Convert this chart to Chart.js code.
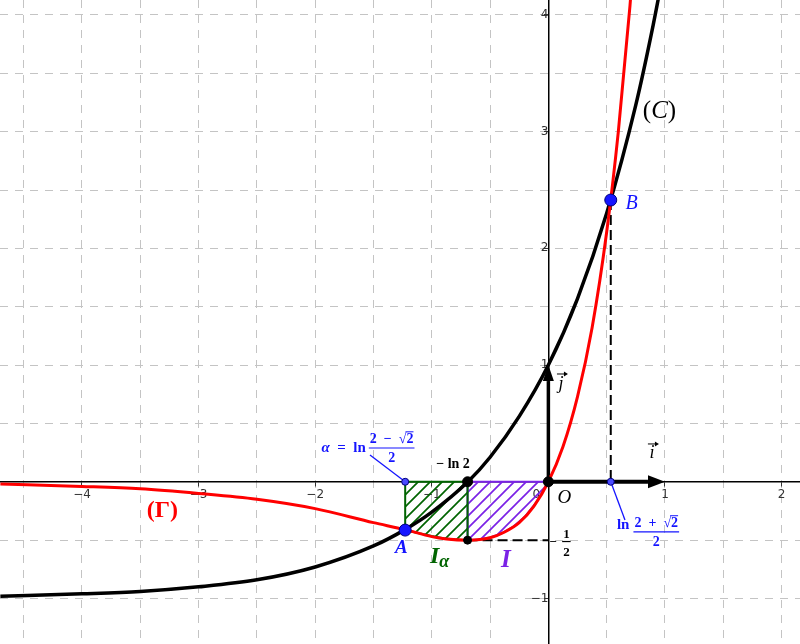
<!DOCTYPE html>
<html>
<head>
<meta charset="utf-8">
<title>Courbes (C) et (Γ)</title>
<script src="https://cdn.jsdelivr.net/npm/chart.js@4.4.0/dist/chart.umd.min.js"></script>
<style>
  html, body { margin: 0; padding: 0; background: #fff; }
  #wrap { width: 800px; height: 644px; }
</style>
</head>
<body>
<div id="wrap"><canvas id="graph"></canvas></div>
<script>
// visible window (units)
const xMin = -4.703, xMax = 2.158;
const yMin = -1.39, yMax = 4.128;

// axis tick labels
const xTickValues = [-4, -3, -2, -1, 0, 1, 2];
const xTickLabels = ['−4', '−3', '−2', '−1', '0\u2003\u2003', '1', '2'];
const yTickValues = [-1, 1, 2, 3, 4];
const yTickLabels = ['−1', '1', '2', '3', '4'];

// curve (C)
const cX = [-4.70, -4.0, -3.5, -3.0, -2.5, -2.0, -1.5, -1.23, -1.0, -0.69, -0.5, -0.25, 0, 0.25, 0.5, 0.75, 0.9, 1.0];
const cY = [-0.98, -0.96, -0.94, -0.90, -0.84, -0.73, -0.55, -0.41, -0.26, 0.00, 0.21, 0.56, 1.00, 1.57, 2.30, 3.23, 3.92, 4.44];

// curve (Γ)
const gX = [-4.70, -4.0, -3.5, -3.0, -2.5, -2.0, -1.5, -1.23, -1.0, -0.875, -0.69, -0.5, -0.375, -0.25, -0.125, 0, 0.125, 0.25, 0.375, 0.5, 0.6, 0.7, 0.75];
const gY = [-0.02, -0.04, -0.06, -0.10, -0.15, -0.23, -0.35, -0.41, -0.47, -0.49, -0.50, -0.48, -0.43, -0.35, -0.21, 0, 0.30, 0.73, 1.32, 2.14, 3.00, 4.08, 4.73];

// hatched region I_alpha (closed outline)
const iaX = [-1.228, -1.228, -1.1, -1.0, -0.9, -0.8, -0.693, -0.693, -1.228];
const iaY = [0, -0.414, -0.444, -0.465, -0.483, -0.495, -0.50, 0, 0];

// hatched region I (closed outline)
const iX = [-0.693, -0.693, -0.6, -0.5, -0.4, -0.3, -0.2, -0.1, 0, -0.693];
const iY = [0, -0.50, -0.495, -0.477, -0.442, -0.384, -0.297, -0.172, 0, 0];

// points
const bigBlueX = [-1.228, 0.535];      // A, B
const bigBlueY = [-0.414, 2.414];
const footX = [-1.228, 0.535];         // feet on the x axis
const footY = [0, 0];
const blackX = [-0.693, 0, -0.693];
const blackY = [0, 0, -0.5];

// dashed guides
const dropBX = [0.535, 0.535];
const dropBY = [2.414, 0];
const halfX = [-0.693, 0];
const halfY = [-0.5, -0.5];

// label connectors
const linkAlphaX = [-1.53, -1.228];
const linkAlphaY = [0.23, 0];
const linkBX = [0.535, 0.657];
const linkBY = [0, -0.327];

// unit vectors i and j
const vecI = [0, 0, 1, 0];
const vecJ = [0, 0, 0, 1];

const pts = (xs, ys) => xs.map((x, i) => ({x: x, y: ys[i]}));

const canvas = document.getElementById('graph');
const mainCtx = canvas.getContext('2d');

function hatch(color) {
    const c = document.createElement('canvas');
    c.width = 12; c.height = 12;
    const g = c.getContext('2d');
    g.strokeStyle = color;
    g.lineWidth = 1.7;
    g.beginPath();
    g.moveTo(0, 12); g.lineTo(12, 0);
    g.moveTo(-6, 6); g.lineTo(6, -6);
    g.moveTo(6, 18); g.lineTo(18, 6);
    g.stroke();
    return mainCtx.createPattern(c, 'repeat');
}

const GREEN = '#006400';
const PURPLE = '#7b22e6';
const BLUE = '#1515ff';
const RED = '#ff0000';
const serif = '"Liberation Serif", "DejaVu Serif", serif';
const SP = '\u2002';

function run(ctx, parts, x, y, align) {
    let w = 0;
    parts.forEach(p => { ctx.font = p[1]; w += ctx.measureText(p[0]).width; });
    let cx = align === 'center' ? x - w / 2 : x;
    ctx.textAlign = 'left';
    parts.forEach(p => {
        ctx.font = p[1];
        ctx.fillStyle = p[2];
        ctx.fillText(p[0], cx, y);
        cx += ctx.measureText(p[0]).width;
    });
    return w;
}

// fraction, numerator may end with a square root
function frac(ctx, left, numBase, barY, denBase, num, den, font, size, color, surd) {
    ctx.font = font;
    ctx.fillStyle = color;
    ctx.strokeStyle = color;
    ctx.textAlign = 'left';
    const wn = ctx.measureText(num).width;
    const wd = ctx.measureText(den).width;
    const w = Math.max(wn, wd) + 2;
    ctx.fillText(num, left + (w - wn) / 2, numBase);
    ctx.fillText(den, left + (w - wd) / 2, denBase);
    ctx.lineWidth = 1.2;
    ctx.beginPath();
    ctx.moveTo(left, barY); ctx.lineTo(left + w, barY);
    ctx.stroke();
    if (surd) {
        const w1 = ctx.measureText(num.slice(0, -1)).width;
        const w2 = ctx.measureText(num.slice(-1)).width;
        const oy = numBase - size * 0.8;
        ctx.lineWidth = 1;
        ctx.beginPath();
        ctx.moveTo(left + (w - wn) / 2 + w1 - 1, oy);
        ctx.lineTo(left + (w - wn) / 2 + w1 + w2, oy);
        ctx.stroke();
    }
    return w;
}

function smallArrow(ctx, cx, y, half) {
    ctx.strokeStyle = '#000';
    ctx.fillStyle = '#000';
    ctx.lineWidth = 1;
    ctx.beginPath();
    ctx.moveTo(cx - half, y); ctx.lineTo(cx + half - 2, y);
    ctx.stroke();
    ctx.beginPath();
    ctx.moveTo(cx + half + 1, y);
    ctx.lineTo(cx + half - 3, y - 2.5);
    ctx.lineTo(cx + half - 3, y + 2.5);
    ctx.closePath();
    ctx.fill();
}

function drawVector(ctx, sx, sy, v, width, headLen, headHalf) {
    const x0 = sx.getPixelForValue(v[0]), y0 = sy.getPixelForValue(v[1]);
    const x1 = sx.getPixelForValue(v[2]), y1 = sy.getPixelForValue(v[3]);
    const len = Math.hypot(x1 - x0, y1 - y0);
    const ux = (x1 - x0) / len, uy = (y1 - y0) / len;
    const bx = x1 - ux * headLen, by = y1 - uy * headLen;
    ctx.strokeStyle = '#000';
    ctx.fillStyle = '#000';
    ctx.lineWidth = width;
    ctx.beginPath();
    ctx.moveTo(x0, y0); ctx.lineTo(bx, by);
    ctx.stroke();
    ctx.beginPath();
    ctx.moveTo(x1, y1);
    ctx.lineTo(bx - uy * headHalf, by + ux * headHalf);
    ctx.lineTo(bx + uy * headHalf, by - ux * headHalf);
    ctx.closePath();
    ctx.fill();
}

const overlay = {
    id: 'overlay',
    beforeDatasetsDraw(chart) {
        const ctx = chart.ctx, sx = chart.scales.x, sy = chart.scales.y;
        ctx.save();
        drawVector(ctx, sx, sy, vecI, 4, 17, 6.5);
        drawVector(ctx, sx, sy, vecJ, 3.5, 16, 5.5);
        ctx.restore();
    },
    afterDatasetsDraw(chart) {
        const ctx = chart.ctx, sx = chart.scales.x, sy = chart.scales.y;
        const X = v => sx.getPixelForValue(v);
        const Y = v => sy.getPixelForValue(v);
        ctx.save();
        ctx.textBaseline = 'alphabetic';

        // (C) and (Γ)
        run(ctx, [['(', '25px ' + serif, '#000'], ['C', 'italic 25px ' + serif, '#000'], [')', '25px ' + serif, '#000']],
            X(0.953), Y(3.12), 'center');
        run(ctx, [['(Γ)', 'bold 24px ' + serif, RED]], X(-3.310), Y(-0.30), 'center');

        // point names
        run(ctx, [['B', 'italic 20px ' + serif, BLUE]], X(0.713), Y(2.338), 'center');
        run(ctx, [['A', 'italic bold 19px ' + serif, BLUE]], X(-1.260), Y(-0.610), 'center');
        run(ctx, [['O', 'italic 19px ' + serif, '#000']], X(0.138), Y(-0.181), 'center');

        // integrals
        const wI = run(ctx, [['I', 'italic bold 24px ' + serif, GREEN]], X(-1.015), Y(-0.696), 'left');
        run(ctx, [['α', 'italic bold 18px ' + serif, GREEN]], X(-1.015) + wI, Y(-0.696) + 4, 'left');
        run(ctx, [['I', 'italic bold 25px ' + serif, PURPLE]], X(-0.364), Y(-0.730), 'center');

        // −ln 2
        run(ctx, [['− ln 2', 'bold 14px ' + serif, '#000']], X(-0.818), Y(0.118), 'center');

        // −1/2
        const hx = X(0.039), hy = Y(-0.512);
        run(ctx, [['−', 'bold 13px ' + serif, '#000']], hx, hy + 4, 'center');
        frac(ctx, X(0.118), hy - 4, hy, hy + 14, '1', '2', 'bold 13px ' + serif, 13, '#000', false);

        // α = ln (2 − √2)/2
        const ax = X(-1.946), ab = Y(0.255);
        const wa = run(ctx, [['α', 'italic bold 15px ' + serif, BLUE], [SP + '=' + SP + 'ln', 'bold 15px ' + serif, BLUE]], ax, ab, 'left');
        frac(ctx, ax + wa + 3, ab - 9, ab - 4, ab + 10, '2' + SP + '−' + SP + '√2', '2', 'bold 14px ' + serif, 14, BLUE, true);

        // ln (2 + √2)/2
        const lx = X(0.588), lb = Y(-0.404);
        const wl = run(ctx, [['ln', 'bold 15px ' + serif, BLUE]], lx, lb, 'left');
        frac(ctx, lx + wl + 4, lb - 2, lb + 3, lb + 17, '2' + SP + '+' + SP + '√2', '2', 'bold 14px ' + serif, 14, BLUE, true);

        // vector names
        const ix = X(0.888), ib = Y(0.204);
        run(ctx, [['i', 'italic 18px ' + serif, '#000']], ix, ib, 'center');
        smallArrow(ctx, ix + 1, ib - 14, 5);
        const jx = X(0.108), jb = Y(0.795);
        run(ctx, [['j', 'italic 18px ' + serif, '#000']], jx, jb, 'center');
        smallArrow(ctx, jx + 1, jb - 15, 5);

        ctx.restore();
    }
};

const noPad = s => { s.paddingTop = 0; s.paddingBottom = 0; s.paddingLeft = 0; s.paddingRight = 0; };
const gridColor = c => (c.tick && c.tick.value === 0) ? 'rgba(0,0,0,0)' : '#c4c4c4';
const tickColor = c => (c.tick && Number.isInteger(c.tick.value) && c.tick.value !== 0) ? '#333' : 'rgba(0,0,0,0)';

new Chart(canvas, {
    type: 'line',
    data: {
        datasets: [
            {   // points on top
                data: pts(bigBlueX, bigBlueY), showLine: false, order: 0,
                pointRadius: 6, pointBackgroundColor: BLUE, pointBorderColor: '#00007a', pointBorderWidth: 1
            },
            {
                data: pts(blackX, blackY), showLine: false, order: 0,
                pointRadius: [5, 5, 4], pointBackgroundColor: '#000', pointBorderColor: '#000', pointBorderWidth: 1
            },
            {
                data: pts(footX, footY), showLine: false, order: 0,
                pointRadius: 3.5, pointBackgroundColor: '#4a4aff', pointBorderColor: '#00007a', pointBorderWidth: 1
            },
            {   // (Γ)
                data: pts(gX, gY), order: 1, borderColor: RED, borderWidth: 3,
                cubicInterpolationMode: 'monotone', pointRadius: 0, fill: false
            },
            {   // (C)
                data: pts(cX, cY), order: 2, borderColor: '#000', borderWidth: 3.5,
                cubicInterpolationMode: 'monotone', pointRadius: 0, fill: false
            },
            {
                data: pts(dropBX, dropBY), order: 3, borderColor: '#000', borderWidth: 2,
                borderDash: [10, 5], pointRadius: 0, tension: 0, fill: false
            },
            {
                data: pts(halfX, halfY), order: 3, borderColor: '#000', borderWidth: 2,
                borderDash: [10, 5], pointRadius: 0, tension: 0, fill: false
            },
            {
                data: pts(linkAlphaX, linkAlphaY), order: 3, borderColor: BLUE, borderWidth: 1.3,
                pointRadius: 0, tension: 0, fill: false
            },
            {
                data: pts(linkBX, linkBY), order: 3, borderColor: BLUE, borderWidth: 1.3,
                pointRadius: 0, tension: 0, fill: false
            },
            {   // I_alpha
                data: pts(iaX, iaY), order: 4, borderColor: GREEN, borderWidth: 2,
                backgroundColor: hatch(GREEN), fill: 'shape', pointRadius: 0, tension: 0
            },
            {   // I
                data: pts(iX, iY), order: 5, borderColor: PURPLE, borderWidth: 2,
                backgroundColor: hatch(PURPLE), fill: 'shape', pointRadius: 0, tension: 0
            }
        ]
    },
    options: {
        responsive: true,
        maintainAspectRatio: false,
        animation: false,
        events: [],
        layout: { padding: 0, autoPadding: false },
        plugins: {
            legend: { display: false },
            tooltip: { enabled: false }
        },
        scales: {
            x: {
                type: 'linear',
                min: xMin, max: xMax,
                position: { y: 0 },
                afterFit: noPad,
                grid: { color: gridColor, lineWidth: 1, drawTicks: true, tickLength: 4, tickColor: tickColor, tickWidth: 1 },
                border: { display: true, color: '#000', width: 1.5, dash: [8, 7] },
                ticks: {
                    stepSize: 0.5, includeBounds: false, autoSkip: false, maxRotation: 0,
                    padding: 2, color: '#333',
                    font: { family: '"DejaVu Sans", sans-serif', size: 12 },
                    callback: v => { const i = xTickValues.indexOf(v); return i >= 0 ? xTickLabels[i] : ''; }
                }
            },
            y: {
                type: 'linear',
                min: yMin, max: yMax,
                position: { x: 0 },
                afterFit: noPad,
                grid: { color: gridColor, lineWidth: 1, drawTicks: true, tickLength: 4, tickColor: tickColor, tickWidth: 1 },
                border: { display: true, color: '#000', width: 1.5, dash: [8, 7] },
                ticks: {
                    stepSize: 0.5, includeBounds: false, autoSkip: false,
                    padding: 3, color: '#333',
                    font: { family: '"DejaVu Sans", sans-serif', size: 12 },
                    callback: v => { const i = yTickValues.indexOf(v); return i >= 0 ? yTickLabels[i] : ''; }
                }
            }
        }
    },
    plugins: [overlay]
});
</script>
</body>
</html>
